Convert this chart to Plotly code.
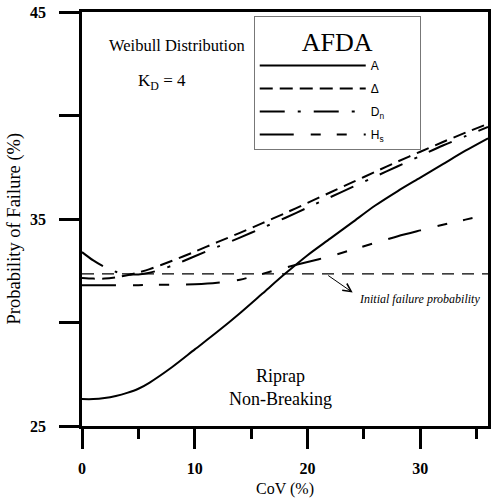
import plotly.graph_objects as go

# ---- data ----
cov = [0, 1, 2, 3, 4, 5, 6, 8, 10, 12, 14, 16, 18, 20, 22, 24, 26, 28, 30, 32, 34, 36]
p_A = [26.3, 26.3, 26.35, 26.45, 26.6, 26.8, 27.1, 27.85, 28.7, 29.55, 30.45, 31.4,
       32.35, 33.25, 34.05, 34.85, 35.65, 36.35, 37.0, 37.65, 38.3, 38.9]
p_Delta = [32.15, 32.12, 32.12, 32.18, 32.28, 32.42, 32.58, 32.98, 33.42, 33.88, 34.33,
           34.8, 35.28, 35.78, 36.28, 36.78, 37.28, 37.78, 38.25, 38.72, 39.17, 39.6]
p_Dn = [33.4, 33.0, 32.68, 32.45, 32.33, 32.32, 32.4, 32.75, 33.2, 33.65, 34.1, 34.57,
        35.05, 35.55, 36.05, 36.55, 37.05, 37.55, 38.05, 38.55, 39.0, 39.45]
p_Hs = [31.8, 31.8, 31.8, 31.8, 31.8, 31.8, 31.82, 31.83, 31.85, 31.92, 32.07, 32.35,
        32.65, 32.92, 33.2, 33.52, 33.85, 34.17, 34.45, 34.72, 34.97, 35.2]
init_x = [0, 36]
init_p = [32.35, 32.35]

series_names = ["A", "\u0394", "D<sub>n</sub>", "H<sub>s</sub>"]
x_ticks = [0, 10, 20, 30]
y_ticks = [25, 35, 45]

SERIF = "Liberation Serif, Times New Roman, serif"
SANS = "Liberation Sans, Arial, sans-serif"
PAD = "\u00a0" * 9

fig = go.Figure()
dashes = ["solid", "13px,7px", "25px,13px,3px,13px", "34px,17px,10px,16px,10px,17px"]
for i, (name, ys, dsh) in enumerate(zip(series_names, [p_A, p_Delta, p_Dn, p_Hs], dashes)):
    fig.add_trace(go.Scatter(
        x=cov, y=ys, mode="lines", name=name + PAD, legendgroup=f"g{i}",
        line=dict(color="black", width=2, shape="spline", smoothing=0.8, dash=dsh),
    ))

fig.add_trace(go.Scatter(
    x=init_x, y=init_p, mode="lines", showlegend=False,
    line=dict(color="black", width=1.1, dash="12px,8px"),
))

fig.update_layout(
    width=493, height=498,
    margin=dict(l=82, r=2, t=12, b=70),
    paper_bgcolor="white", plot_bgcolor="white",
    showlegend=True,
    legend=dict(
        x=0.423, y=0.99, xanchor="left", yanchor="top",
        bgcolor="white", bordercolor="#777", borderwidth=1,
        font=dict(family=SANS, size=12, color="black"),
        title=dict(text="AFDA", font=dict(family=SERIF, size=26, color="black"), side="top center"),
        itemwidth=106, tracegroupgap=4,
    ),
    xaxis=dict(
        range=[0, 36], tickvals=x_ticks, ticks="outside", ticklen=20, tickwidth=2.5,
        tickcolor="black", showline=True, linecolor="black", linewidth=2.5, mirror=True,
        showgrid=False, zeroline=False, ticklabelstandoff=6,
        tickfont=dict(family=SERIF, size=16, color="black", weight="bold"),
        minor=dict(dtick=5, tick0=0, ticks="outside", ticklen=10, tickwidth=2.5, tickcolor="black", showgrid=False),
        title=dict(text="CoV (%)", font=dict(family=SERIF, size=16, color="black"), standoff=8),
    ),
    yaxis=dict(
        range=[25, 45], tickvals=y_ticks, ticks="outside", ticklen=20,
        tickwidth=2.5, tickcolor="black", showline=True, linecolor="black", linewidth=2.5,
        mirror=True, showgrid=False, zeroline=False, ticklabelstandoff=10,
        tickfont=dict(family=SERIF, size=16, color="black", weight="bold"),
        minor=dict(dtick=5, tick0=25, ticks="outside", ticklen=20, tickwidth=2.5, tickcolor="black", showgrid=False),
    ),
)

# y-axis title as a free annotation to place it like the reference
fig.add_annotation(x=-0.165, y=0.477, xref="paper", yref="paper", xanchor="center", yanchor="middle",
                   showarrow=False, textangle=-90, text="Probability of Failure (%)",
                   font=dict(family=SERIF, size=18.5, color="black"))

fig.add_annotation(x=24.0, y=31.45, ax=21.7, ay=32.32, axref="x", ayref="y",
                   text="", showarrow=True, arrowhead=5, arrowsize=1.6, arrowwidth=1, arrowcolor="black")
fig.add_annotation(x=24.4, y=31.15, xanchor="left", yanchor="middle", showarrow=False,
                   text="<i>Initial failure probability</i>",
                   font=dict(family=SERIF, size=12, color="black"))
fig.add_annotation(x=0.235, y=0.92, xref="paper", yref="paper", xanchor="center", yanchor="middle",
                   showarrow=False, text="Weibull Distribution",
                   font=dict(family=SERIF, size=16.5, color="black"))
fig.add_annotation(x=0.196, y=0.83, xref="paper", yref="paper", xanchor="center", yanchor="middle",
                   showarrow=False, text="K<sub>D</sub> = 4",
                   font=dict(family=SERIF, size=17, color="black"))
fig.add_annotation(x=0.49, y=0.093, xref="paper", yref="paper", xanchor="center", yanchor="middle",
                   showarrow=False, text="Riprap<br>Non-Breaking",
                   font=dict(family=SERIF, size=18, color="black"))

fig.write_html("out.html")
